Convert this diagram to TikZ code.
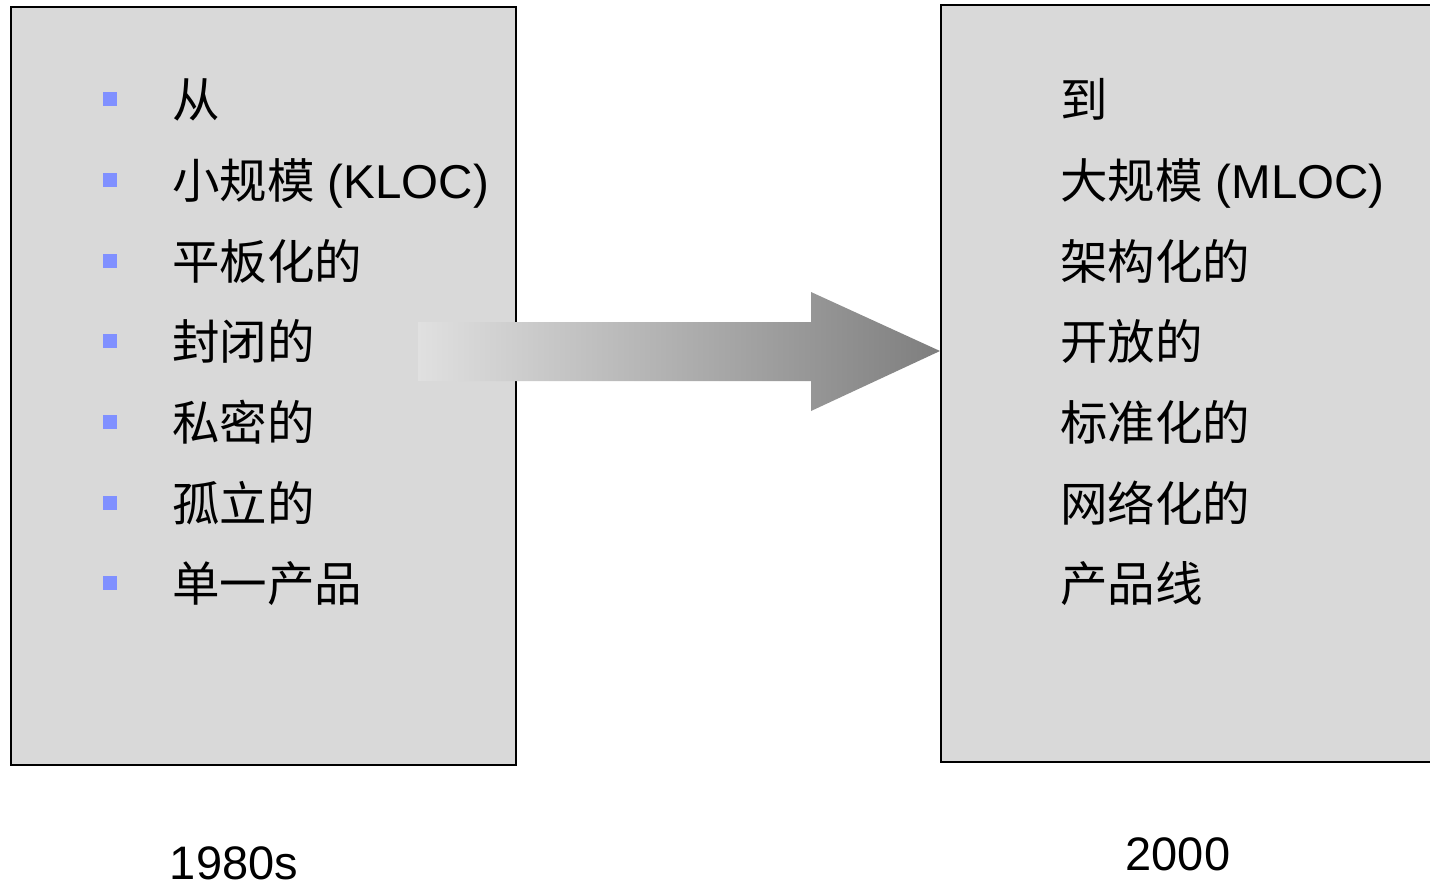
\documentclass[tikz,border=0pt]{standalone}
\usepackage{fontspec}
\setmainfont{Liberation Sans}
\newfontfamily\cjk{Noto Sans CJK SC}
\definecolor{boxgray}{RGB}{217,217,217}
\definecolor{arrowlight}{RGB}{224,224,224}
\definecolor{arrowdark}{RGB}{126,126,126}
\definecolor{bulblue}{RGB}{128,144,255}
\tikzset{
  panel/.style={draw=black, line width=1.6pt, fill=boxgray, inner sep=0pt, anchor=north west},
  bul/.style={fill=bulblue, inner sep=0pt, minimum size=14pt, draw=none},
  item/.style={anchor=base west, inner sep=0pt, font=\fontsize{47.5}{56}\selectfont},
  year/.style={anchor=base, inner sep=0pt, font=\fontsize{47}{56}\selectfont}
}
\begin{document}
\begin{tikzpicture}[x=1pt,y=-1pt]
\useasboundingbox (0,0) rectangle (1430,886);
\fill[white] (0,0) rectangle (1430,886);
% left panel
\node[panel, minimum width=505pt, minimum height=758pt] (L) at (10,6) {};
% right panel (runs past the right edge)
\begin{scope}
\clip (0,0) rectangle (1430,886);
\node[panel, minimum width=520pt, minimum height=757pt] (R) at (940,4) {};
\end{scope}
% bullets
\foreach \i/\y in {1/99,2/180,3/261,4/341,5/422,6/503,7/583}
  \node[bul] (b\i) at (110,\y) {};
% left items
\node[item] (l1) at (172,117) {\cjk 从};
\node[item] (l2) at (172,198) {{\cjk 小规模} (KLOC)};
\node[item] (l3) at (172,279) {\cjk 平板化的};
\node[item] (l4) at (172,359) {\cjk 封闭的};
\node[item] (l5) at (172,440) {\cjk 私密的};
\node[item] (l6) at (172,521) {\cjk 孤立的};
\node[item] (l7) at (172,601) {\cjk 单一产品};
% right items
\node[item] (r1) at (1060,117) {\cjk 到};
\node[item] (r2) at (1060,198) {{\cjk 大规模} (MLOC)};
\node[item] (r3) at (1060,279) {\cjk 架构化的};
\node[item] (r4) at (1060,359) {\cjk 开放的};
\node[item] (r5) at (1060,440) {\cjk 标准化的};
\node[item] (r6) at (1060,521) {\cjk 网络化的};
\node[item] (r7) at (1060,601) {\cjk 产品线};
% arrow
\coordinate (tip) at (R.west |- 0,351);
\shade[left color=arrowlight, right color=arrowdark]
  (418,322) -- (811,322) -- (811,292) -- (tip) -- (811,411) -- (811,381) -- (418,381) -- cycle;
% years
\node[year] (y1) at (234,879) {1980s};
\node[year] (y2) at (1178,870) {2000};
\end{tikzpicture}
\end{document}
